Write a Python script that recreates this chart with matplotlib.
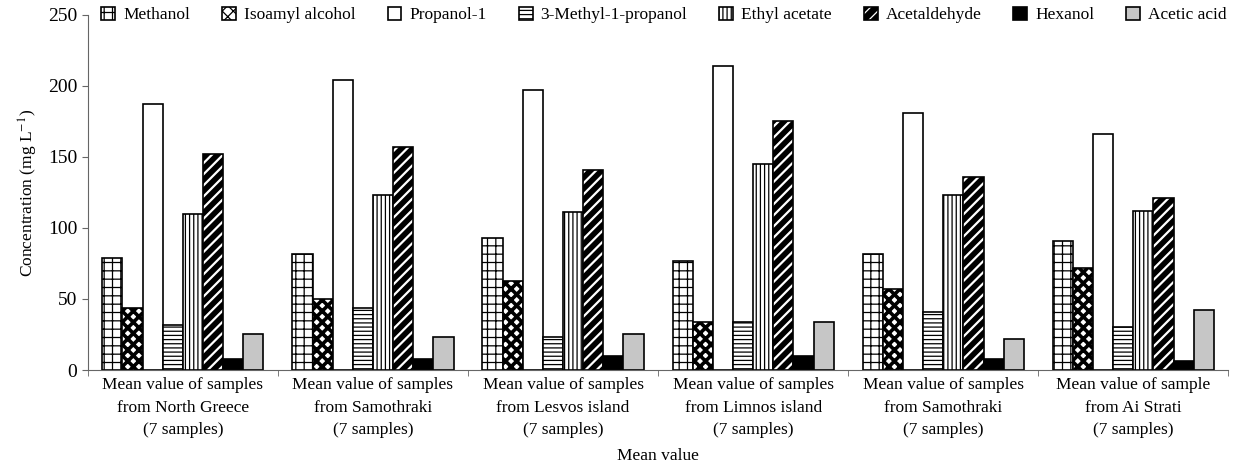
import matplotlib.pyplot as plt
from matplotlib.patches import Patch
import numpy as np

plt.rcParams['font.family'] = ['Liberation Serif', 'DejaVu Serif']
plt.rcParams['mathtext.fontset'] = 'stix'
plt.rcParams['hatch.linewidth'] = 0.9

# data
groups = [
    'Mean value of samples\nfrom North Greece\n(7 samples)',
    'Mean value of samples\nfrom Samothraki\n(7 samples)',
    'Mean value of samples\nfrom Lesvos island\n(7 samples)',
    'Mean value of samples\nfrom Limnos island\n(7 samples)',
    'Mean value of samples\nfrom Samothraki\n(7 samples)',
    'Mean value of sample\nfrom Ai Strati\n(7 samples)',
]
compounds = ['Methanol', 'Isoamyl alcohol', 'Propanol-1', '3-Methyl-1-propanol',
             'Ethyl acetate', 'Acetaldehyde', 'Hexanol', 'Acetic acid']
methanol = [79, 82, 93, 77, 82, 91]
isoamyl = [44, 50, 63, 34, 57, 72]
propanol = [187, 204, 197, 214, 181, 166]
methyl_propanol = [32, 44, 23, 34, 41, 30]
ethyl_acetate = [110, 123, 111, 145, 123, 112]
acetaldehyde = [152, 157, 141, 175, 136, 121]
hexanol = [8, 8, 10, 10, 8, 6]
acetic_acid = [25, 23, 25, 34, 22, 42]
series = [methanol, isoamyl, propanol, methyl_propanol,
          ethyl_acetate, acetaldehyde, hexanol, acetic_acid]

# (face, hatch, hatch colour, hatch linewidth)
styles = [
    ('white', '++', 'black', 0.9),
    ('white', 'xxx', 'black', 2.6),
    ('white', '', 'black', 0.9),
    ('white', '----', 'black', 0.9),
    ('white', '||||', 'black', 0.9),
    ('black', '///', 'white', 1.6),
    ('black', '', 'black', 0.9),
    ('#c6c6c6', '', 'black', 0.9),
]

fig = plt.figure(figsize=(12.37, 4.66), dpi=100)
ax = fig.add_axes([0.071, 0.206, 0.922, 0.762])

x = np.arange(len(groups))
w = 0.106
handles = []
for i, (vals, (fc, hatch, hc, hlw)) in enumerate(zip(series, styles)):
    pos = x + (i - 3.5) * w
    with plt.rc_context({'hatch.linewidth': hlw}):
        bars = ax.bar(pos, vals, w, facecolor=fc, edgecolor=hc, hatch=hatch, linewidth=0)
        h1 = Patch(facecolor=fc, edgecolor=hc, hatch=hatch, linewidth=0)
    for b in list(bars) + [h1]:
        if hasattr(b, 'set_hatch_linewidth'):
            b.set_hatch_linewidth(hlw)
    ax.bar(pos, vals, w, facecolor='none', edgecolor='black', linewidth=1.2)
    h2 = Patch(facecolor='none', edgecolor='black', linewidth=1.2)
    handles.append((h1, h2))

ax.set_xlim(-0.5, len(groups) - 0.5)
ax.set_ylim(0, 250)
ax.set_yticks(range(0, 251, 50))
ax.set_xticks(x)
ax.set_xticklabels(groups, fontsize=12.5, linespacing=1.55)
ax.set_xticks(np.arange(-0.5, len(groups)), minor=True)
ax.tick_params(axis='x', which='major', length=0, pad=5)
ax.tick_params(axis='x', which='minor', length=4, direction='out', color='#666666')
ax.tick_params(axis='y', labelsize=14, length=4, color='#666666')
for s in ['top', 'right']:
    ax.spines[s].set_visible(False)
for s in ['left', 'bottom']:
    ax.spines[s].set_color('#666666')
    ax.spines[s].set_linewidth(0.8)

ax.set_ylabel(r'Concentration (mg L$^{-1}$)', fontsize=12.5, labelpad=6)
ax.set_xlabel('Mean value', fontsize=12.5, labelpad=7)

fig.legend(handles, compounds, loc='center', bbox_to_anchor=(664 / 1237, 1 - 15 / 466),
           ncol=8, frameon=False, fontsize=12.5, handlelength=0.8, handleheight=0.8,
           handletextpad=0.45, columnspacing=1.85, borderpad=0)

fig.savefig('out.png', dpi=100)
